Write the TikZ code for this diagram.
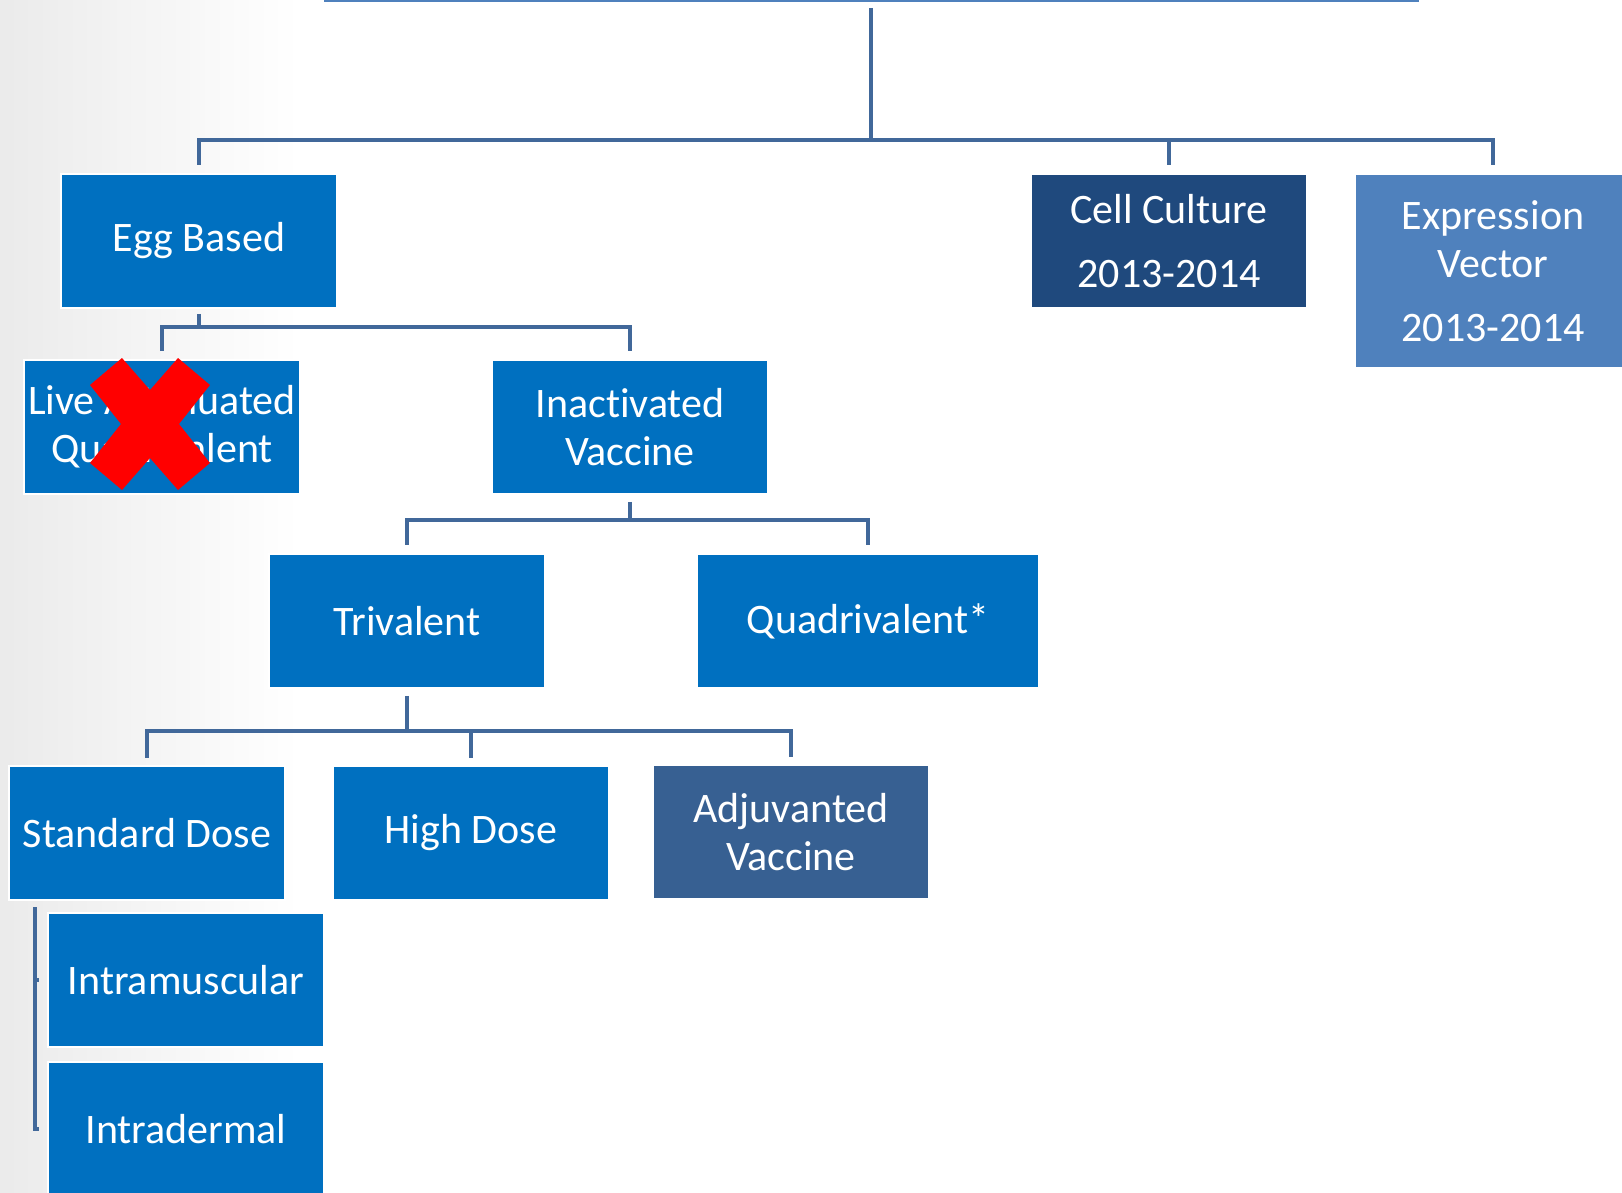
\documentclass[tikz,border=0pt]{standalone}
\usepackage{fontspec}
\setmainfont{Carlito}[Ligatures={NoCommon,NoContextual}, Contextuals=NoAlternate]
\definecolor{boxblue}{HTML}{0070C0}
\definecolor{celldark}{HTML}{1F497D}
\definecolor{exprblue}{HTML}{4F81BD}
\definecolor{adjblue}{HTML}{376092}
\definecolor{connblue}{HTML}{41689A}

\begin{document}
\begin{tikzpicture}[x=0.5pt, y=-0.5pt,
        box/.style={fill=boxblue, draw=white, line width=0.8pt, text=white,
            minimum width=138pt, minimum height=67pt, inner sep=0pt,
            align=center, font=\fontsize{21}{24}\selectfont},
        conn/.style={draw=connblue, line width=2pt}]

                % 背景
                \useasboundingbox (0,0) rectangle (1622,1193);
                \shade[left color=black!8, right color=white] (0,0) rectangle (300,1193);

                % 上の線
                \coordinate (topL) at (324,1);
                \coordinate (topR) at (1419,1);
                \draw[exprblue, line width=1.5pt] (topL) -- (topR);

                % 箱
                \node[box] (egg) at (199,241) {Egg Based};
                \node[box, fill=celldark] (cell) at (1169,241) {Cell Culture\\[8pt]2013-2014};
                \node[box, fill=exprblue, minimum height=97pt] (expr) at (1493,271) {Expression\\Vector\\[8pt]2013-2014};
                \node[box] (live) at (162,427) {Live Attenuated\\Quadrivalent};
                \node[box] (inact) at (630,427) {Inac{}tivated\\Vaccine};
                \node[box] (triv) at (407,621) {Trivalent};
                \node[box, minimum width=171pt] (quad) at (868,621) {Quadrivalent*};
                \node[box] (std) at (147,833) {Standard Dose};
                \node[box] (high) at (471,833) {High Dose};
                \node[box, fill=adjblue] (adj) at (791,832) {Adjuvanted\\Vaccine};
                \node[box] (imus) at (186,980) {Intramuscular};
                \node[box] (iderm) at (186,1129) {Intradermal};

                % 一段目の線
                \coordinate (rootbase) at (871,8);
                \coordinate (rootbar) at (871,140);
                \draw[conn] (rootbase) -- (rootbar);
                \foreach \c in {egg, cell, expr} {
                    \draw[conn] (rootbar) -| ([yshift=4pt]\c.north);
                }

                % 二段目の線
                \coordinate (eggbar) at (199,327);
                \draw[conn] ([yshift=-2.5pt]egg.south) -- (eggbar);
                \foreach \c in {live, inact} {
                    \draw[conn] (eggbar) -| ([yshift=4pt]\c.north);
                }

                % 三段目の線
                \coordinate (inactbar) at (630,520);
                \draw[conn] ([yshift=-3.5pt]inact.south) -- (inactbar);
                \foreach \c in {triv, quad} {
                    \draw[conn] (inactbar) -| ([yshift=4pt]\c.north);
                }

                % 四段目の線
                \coordinate (trivbar) at (407,731);
                \draw[conn] ([yshift=-3.5pt]triv.south) -- (trivbar);
                \foreach \c in {std, high, adj} {
                    \draw[conn] (trivbar) -| ([yshift=3.5pt]\c.north);
                }

                % 括弧
                \coordinate (brtop) at (35,907);
                \draw[conn] (brtop) |- ([xshift=-4pt]imus.west);
                \draw[conn] (brtop) |- ([xshift=-4pt]iderm.west);

                % バツ印
                \begin{scope}[shift={(150,424)}]
                    \fill[red] (-28,-66) -- (0,-34) -- (28,-66) -- (60,-39) -- (29,0)
                        -- (60,39) -- (28,66) -- (0,34) -- (-28,66) -- (-60,39)
                        -- (-29,0) -- (-60,-39) -- cycle;
                \end{scope}

            \end{tikzpicture}
\end{document}
